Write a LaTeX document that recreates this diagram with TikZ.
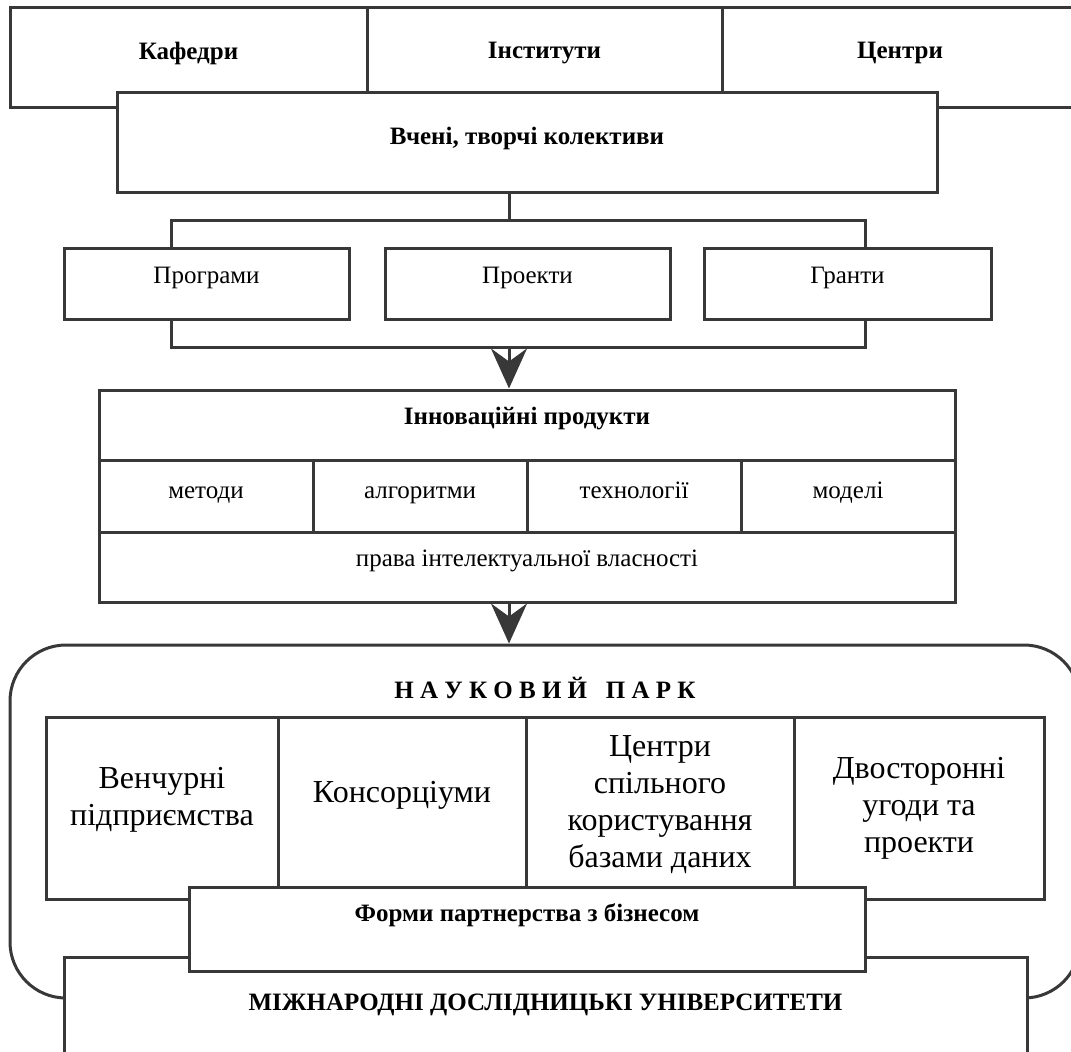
\documentclass[tikz,border=0pt]{standalone}
\usepackage{fontspec}
\setmainfont{Liberation Serif}
\usetikzlibrary{arrows.meta}
\definecolor{frame}{HTML}{383838}
\tikzset{
	cell/.style={draw=frame, line width=3pt, fill=white, inner sep=0pt},
	hd/.style={font=\fontsize{25}{30}\selectfont\bfseries},
	txt/.style={font=\fontsize{25}{30}\selectfont},
	big/.style={font=\fontsize{32}{37}\selectfont, align=center},
	wire/.style={draw=frame, line width=3pt},
	flow/.style={wire, -{Stealth[length=40pt,width=36pt,inset=13pt]}}
}

\begin{document}
\begin{tikzpicture}[x=1pt, y=-1pt]
	%%%%% START %%%%%
	\clip (0,0) rectangle (1071,1052);
	
	\node[cell, minimum width=357pt, minimum height=100pt] (kaf) at (188.5,57) {};
	\node[cell, minimum width=355pt, minimum height=100pt] (inst) at (544.5,57) {};
	\node[cell, minimum width=356pt, minimum height=100pt] (centr) at (900,57) {};
	\node[hd] (kaftxt) at (188.5,53) {Кафедри};
	\node[hd] (insttxt) at (544.5,53) {Інститути};
	\node[hd] (centrtxt) at (900,53) {Центри};
	
	\node[cell, minimum width=820pt, minimum height=100pt] (vcheni) at (527,142) {};
	\node[hd] (vchenitxt) at (527,138) {Вчені, творчі колективи};
	
	\node[cell, minimum width=285pt, minimum height=71pt] (progr) at (206.5,283.5) {};
	\node[cell, minimum width=285pt, minimum height=71pt] (proekt) at (527.5,283.5) {};
	\node[cell, minimum width=287pt, minimum height=71pt] (grant) at (847.5,283.5) {};
	\node[txt] (progrtxt) at (206.5,278) {Програми};
	\node[txt] (proekttxt) at (527.5,278) {Проекти};
	\node[txt] (granttxt) at (847.5,278) {Гранти};
	
	\coordinate (fork) at (509,220);
	\coordinate (forkL) at (171,220);
	\coordinate (forkR) at (865,220);
	\draw[wire] (vcheni.south -| fork) -- (fork);
	\draw[wire] (progr.north -| forkL) -- (forkL) -- (forkR) -- (grant.north -| forkR);
	
	\coordinate (join) at (509,347);
	\coordinate (joinL) at (171,347);
	\coordinate (joinR) at (865,347);
	\draw[wire] (progr.south -| joinL) -- (joinL) -- (joinR) -- (grant.south -| joinR);
	
	\node[cell, minimum width=856pt, minimum height=70pt] (innovtop) at (527,425) {};
	\node[cell, minimum width=214pt, minimum height=72pt] (metody) at (206,496) {};
	\node[cell, minimum width=214pt, minimum height=72pt] (algor) at (420,496) {};
	\node[cell, minimum width=214pt, minimum height=72pt] (tech) at (634,496) {};
	\node[cell, minimum width=214pt, minimum height=72pt] (model) at (848,496) {};
	\node[cell, minimum width=856pt, minimum height=70pt] (prava) at (527,567) {};
	\node[hd] (innovtxt) at (527,419) {Інноваційні продукти};
	\node[txt, anchor=base] (metodytxt) at (206,498) {методи};
	\node[txt, anchor=base] (algortxt) at (420,498) {алгоритми};
	\node[txt, anchor=base] (techtxt) at (634,498) {технології};
	\node[txt, anchor=base] (modeltxt) at (848,498) {моделі};
	\node[txt] (pravatxt) at (527,561) {права інтелектуальної власності};
	
	\draw[flow] (join) -- (join |- innovtop.north);
	
	\node[cell, rounded corners=56pt, minimum width=1070pt, minimum height=353pt] (park) at (545,821.5) {};
	\node[hd] (parktxt) at (545,688) {Н~А~У~К~О~В~И~Й~~~П~А~Р~К};
	\draw[flow] (prava.south -| join) -- (park.north -| join);
	
	\node[cell, minimum width=232pt, minimum height=182pt] (venture) at (162,808) {};
	\node[cell, minimum width=248pt, minimum height=182pt] (kons) at (402,808) {};
	\node[cell, minimum width=268pt, minimum height=182pt] (centers) at (660,808) {};
	\node[cell, minimum width=250pt, minimum height=182pt] (bilat) at (919,808) {};
	\node[big] (venturetxt) at (162,799.5) {Венчурні\\підприємства};
	\node[big] (konstxt) at (402,795) {Консорціуми};
	\node[big] (centerstxt) at (660,804.5) {Центри\\спільного\\користування\\базами даних};
	\node[big] (bilattxt) at (919,808) {Двосторонні\\угоди та\\проекти};
	
	\node[cell, minimum width=963pt, minimum height=113pt] (univ) at (545.5,1013.5) {};
	\node[hd] (univtxt) at (545.5,1005) {МІЖНАРОДНІ ДОСЛІДНИЦЬКІ УНІВЕРСИТЕТИ};
	
	\node[cell, minimum width=676pt, minimum height=84pt] (forms) at (527,929) {};
	\node[hd] (formstxt) at (527,915) {Форми партнерства з бізнесом};
	
	%%%%% END %%%%%
\end{tikzpicture}
\end{document}
